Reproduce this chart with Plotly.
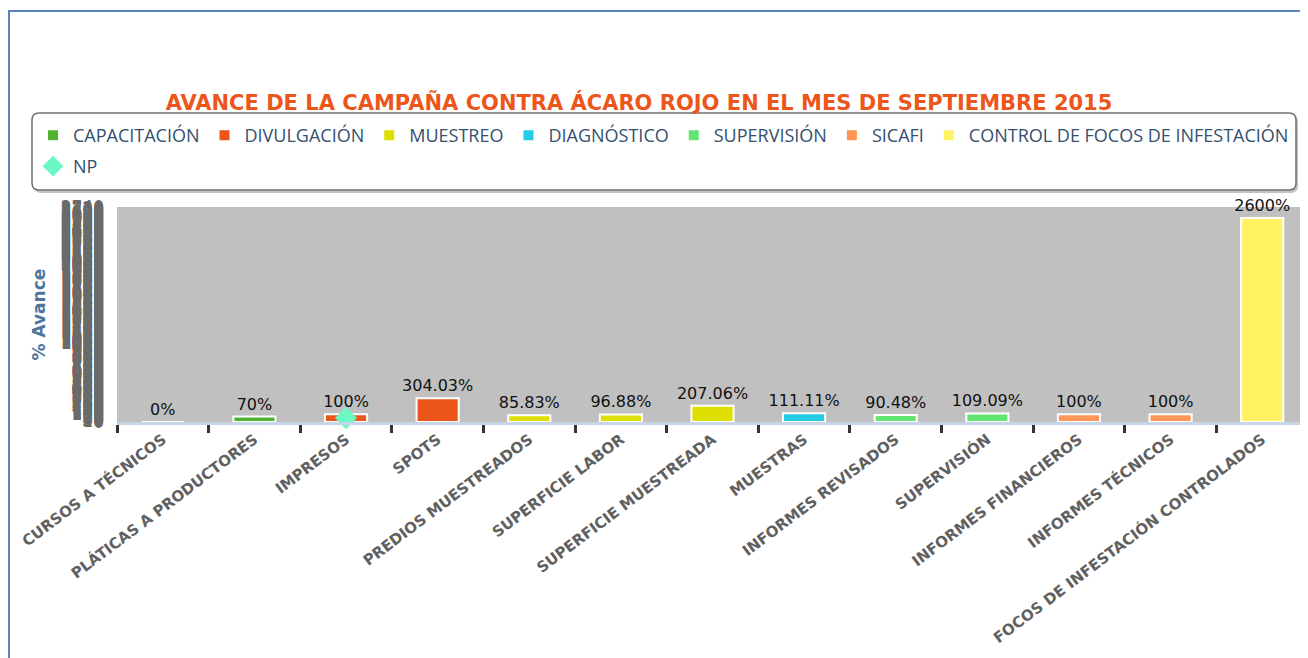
import plotly.graph_objects as go

# ---------------- data ----------------
categories = [
    "CURSOS A TÉCNICOS", "PLÁTICAS A PRODUCTORES", "IMPRESOS", "SPOTS",
    "PREDIOS MUESTREADOS", "SUPERFICIE LABOR", "SUPERFICIE MUESTREADA",
    "MUESTRAS", "INFORMES REVISADOS", "SUPERVISIÓN", "INFORMES FINANCIEROS",
    "INFORMES TÉCNICOS", "FOCOS DE INFESTACIÓN CONTROLADOS",
]
series_names = ["CAPACITACIÓN", "DIVULGACIÓN", "MUESTREO", "DIAGNÓSTICO",
                "SUPERVISIÓN", "SICAFI", "CONTROL DE FOCOS DE INFESTACIÓN"]
series_colors = ["#50B432", "#ED561B", "#DDDF00", "#24CBE5", "#64E572",
                 "#FF9655", "#FFF263"]
capacitacion_cats = ["CURSOS A TÉCNICOS", "PLÁTICAS A PRODUCTORES"]
capacitacion_vals = [0, 70]
divulgacion_cats = ["IMPRESOS", "SPOTS"]
divulgacion_vals = [100, 304.03]
muestreo_cats = ["PREDIOS MUESTREADOS", "SUPERFICIE LABOR", "SUPERFICIE MUESTREADA"]
muestreo_vals = [85.83, 96.88, 207.06]
diagnostico_cats = ["MUESTRAS"]
diagnostico_vals = [111.11]
supervision_cats = ["INFORMES REVISADOS", "SUPERVISIÓN"]
supervision_vals = [90.48, 109.09]
sicafi_cats = ["INFORMES FINANCIEROS", "INFORMES TÉCNICOS"]
sicafi_vals = [100, 100]
control_cats = ["FOCOS DE INFESTACIÓN CONTROLADOS"]
control_vals = [2600]
np_cats = ["IMPRESOS"]
np_vals = [50]

title_text = "AVANCE DE LA CAMPAÑA CONTRA ÁCARO ROJO EN EL MES DE SEPTIEMBRE 2015"
y_title = "% Avance"

# ---------------- layout geometry ----------------
# the page body has an 8px margin; positions below are given in page pixels
OFF = 8
W, H = 1308 - OFF, 658 - OFF
L = 117 - OFF
T = 207 - OFF
B = H - (422 - OFF)
R = 0
PW, PH = W - L - R, H - T - B


def px2x(page_px):
    return (page_px - OFF - L) / PW


def px2y(page_py):
    return (H - B - (page_py - OFF)) / PH


def fmt(v):
    s = f"{v:.2f}".rstrip("0").rstrip(".")
    return s + "%"


groups = [
    (capacitacion_cats, capacitacion_vals),
    (divulgacion_cats, divulgacion_vals),
    (muestreo_cats, muestreo_vals),
    (diagnostico_cats, diagnostico_vals),
    (supervision_cats, supervision_vals),
    (sicafi_cats, sicafi_vals),
    (control_cats, control_vals),
]

fig = go.Figure()
for name, color, (cats, vals) in zip(series_names, series_colors, groups):
    fig.add_trace(go.Bar(
        x=cats, y=vals, name=name,
        marker=dict(color=color, line=dict(color="white", width=2)),
        width=0.46,
        text=[fmt(v) for v in vals], textposition="outside",
        constraintext="none",
        textfont=dict(family="DejaVu Sans", size=16, color="#111111"),
        cliponaxis=False, legend="legend",
    ))

fig.add_trace(go.Scatter(
    x=np_cats, y=np_vals, name="NP", mode="markers",
    marker=dict(symbol="diamond", size=17, color="#6AF9C4"),
    cliponaxis=False, legend="legend2",
))


def rounded_rect(x0, y0, x1, y1, r):
    def P(px, py):
        return f"{px2x(px):.5f},{px2y(py):.5f}"
    return (f"M {P(x0 + r, y0)} L {P(x1 - r, y0)} Q {P(x1, y0)} {P(x1, y0 + r)} "
            f"L {P(x1, y1 - r)} Q {P(x1, y1)} {P(x1 - r, y1)} "
            f"L {P(x0 + r, y1)} Q {P(x0, y1)} {P(x0, y1 - r)} "
            f"L {P(x0, y0 + r)} Q {P(x0, y0)} {P(x0 + r, y0)} Z")


shapes = [
    # outer page frame
    dict(type="rect", xref="paper", yref="paper",
         x0=px2x(9), x1=px2x(1340), y0=px2y(700), y1=px2y(11),
         line=dict(color="#5b84bd", width=2), fillcolor="rgba(0,0,0,0)",
         layer="above"),
    # legend shadow
    dict(type="path", xref="paper", yref="paper",
         path=rounded_rect(34, 115, 1298, 193, 7),
         line=dict(color="rgba(0,0,0,0)", width=0), fillcolor="rgba(120,120,120,0.45)",
         layer="below"),
    # legend box
    dict(type="path", xref="paper", yref="paper",
         path=rounded_rect(32, 113, 1296, 190, 7),
         line=dict(color="#707070", width=1.5), fillcolor="white",
         layer="below"),
]

fig.update_layout(
    width=W, height=H,
    margin=dict(l=L, r=R, t=T, b=B, autoexpand=False),
    template="none",
    paper_bgcolor="white",
    plot_bgcolor="#C0C0C0",
    barmode="overlay",
    showlegend=True,
    title=dict(text=title_text, x=(639 - OFF) / W, xref="container", xanchor="center",
               y=1 - (103 - OFF) / H, yref="container", yanchor="middle",
               font=dict(family="DejaVu Sans", size=21, color="#ED561B", weight="bold")),
    legend=dict(orientation="h", xref="paper", yref="paper",
                x=px2x(33), y=px2y(117), xanchor="left", yanchor="top",
                bgcolor="rgba(0,0,0,0)", borderwidth=0,
                font=dict(family="Open Sans", size=18, color="#34506e"),
                traceorder="normal"),
    legend2=dict(orientation="h", xref="paper", yref="paper",
                 x=px2x(33), y=px2y(148), xanchor="left", yanchor="top",
                 bgcolor="rgba(0,0,0,0)", borderwidth=0,
                 font=dict(family="Open Sans", size=18, color="#34506e")),
    xaxis=dict(categoryorder="array", categoryarray=categories,
               range=[-0.5, len(categories) - 0.5],
               tickangle=-37, tickson="boundaries", ticks="outside",
               ticklen=8, tickwidth=3, tickcolor="#333333",
               showline=True, linecolor="#c6d6e6", linewidth=3,
               showgrid=False, zeroline=False, automargin=False,
               ticklabelstandoff=0,
               tickfont=dict(family="DejaVu Sans", size=15, color="#606060", weight="bold")),
    yaxis=dict(range=[0, 2740], tickmode="linear", tick0=0, dtick=10,
               showgrid=False, zeroline=False, showline=False, ticks="",
               ticklabelstandoff=12, automargin=False,
               tickfont=dict(family="DejaVu Sans", size=17, color="#6a6a6a")),
    shapes=shapes,
    annotations=[dict(text=y_title, xref="paper", yref="paper",
                      x=px2x(38), y=0.5, textangle=-90, showarrow=False,
                      xanchor="center", yanchor="middle",
                      font=dict(family="DejaVu Sans", size=17, color="#4d759e", weight="bold"))],
)

fig.write_html("out.html")
